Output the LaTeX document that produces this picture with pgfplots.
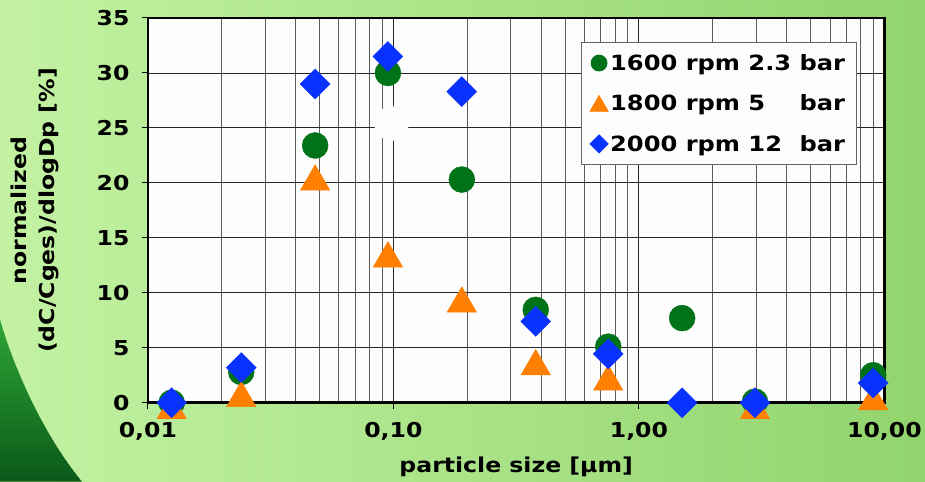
\documentclass[border=0pt]{standalone}
\usepackage{fontspec}
\setmainfont{DejaVu Sans}[FakeStretch=1.15]
\usepackage{pgfplots}
\pgfplotsset{compat=1.18}
\definecolor{bgL}{HTML}{C2F2A2}
\definecolor{bgR}{HTML}{92D46E}
\definecolor{swT}{HTML}{2EA535}
\definecolor{swB}{HTML}{0B5A1A}
\definecolor{cgreen}{HTML}{007318}
\definecolor{corange}{HTML}{FF7F00}
\definecolor{cblue}{HTML}{0A32FF}
\definecolor{pw}{HTML}{FDFDFD}
\newcommand{\ff}{\bfseries\fontsize{20.5}{28}\selectfont}
\newcommand{\fl}{\bfseries\fontsize{21}{28}\selectfont}
\begin{document}
\begin{tikzpicture}[x=1pt,y=1pt]
% frame: bottom and top strips
\foreach \i in {0,...,184} {
  \pgfmathsetmacro\t{\i/184*100}
  \fill[bgR!\t!bgL] (\i*5,0) rectangle (\i*5+5.6,79.5);
  \fill[bgR!\t!bgL] (\i*5,463.5) rectangle (\i*5+5.6,482);
}
% left strip
\foreach \i in {0,...,28} {
  \pgfmathsetmacro\t{\i/184*100}
  \fill[bgR!\t!bgL] (\i*5,79) rectangle (\i*5+5.6,464);
}
\fill[bgR!15.8!bgL] (145,79) rectangle (148.5,464);
% right strip
\fill[bgR!96!bgL] (884.5,79) rectangle (885.5,464);
\foreach \i in {177,...,184} {
  \pgfmathsetmacro\t{\i/184*100}
  \fill[bgR!\t!bgL] (\i*5,79) rectangle (\i*5+5.6,464);
}
% dark green swoosh
\begin{scope}
\clip (0,162) .. controls (15,110) and (45,45) .. (82,0) -- (0,0) -- cycle;
\foreach \j in {0,...,40} {
  \pgfmathsetmacro\t{\j/40*100}
  \fill[swT!\t!swB] (0,\j*4) rectangle (90,\j*4+4.6);
}
\end{scope}
\fill[pw] (148,79) rectangle (885,464);
\useasboundingbox (0,0) rectangle (925,482);
\begin{axis}[
  at={(148pt,79pt)}, anchor=south west,
  width=737pt, height=385pt, scale only axis,
  axis background/.style={fill=pw},
  xmode=log, log basis x=10,
  xmin=0.01, xmax=10, ymin=0, ymax=35,
  xtick={0.01,0.1,1,10},
  minor xtick={0.02,0.03,0.04,0.05,0.06,0.07,0.08,0.09,0.2,0.3,0.4,0.5,0.6,0.7,0.8,0.9,2,3,4,5,6,7,8,9},
  xticklabels={{0,01},{0,10},{1,00},{10,00}},
  ytick={0,5,10,15,20,25,30,35},
  /pgf/number format/assume math mode=true,
  xmajorgrids=true, xminorgrids=true, ymajorgrids=true,
  major grid style={black!85, line width=0.9pt},
  minor grid style={black!65, line width=0.9pt},
  axis line style={black, line width=2.6pt},
  tick align=outside, xtick pos=bottom, ytick pos=left,
  major tick length=6pt, minor tick length=0pt,
  tick style={black, line width=1pt},
  ticklabel style={font=\ff},
  yticklabel style={xshift=-9pt},
  xticklabel style={yshift=-10pt},
  xlabel={particle size [µm]},
  xlabel style={font=\ff, at={(axis description cs:0.5,-0.182)}, anchor=base},
  ylabel={normalized\\(dC/Cges)/dlogDp [\%]},
  ylabel style={font=\ff, align=center, at={(axis description cs:-0.153,0.5)}, anchor=center},
  clip=false,
  legend style={at={(axis description cs:0.5875,0.9377)}, anchor=north west,
    draw=black!60, line width=0.8pt, fill=pw, font=\fl,
    inner xsep=9pt, inner ysep=10pt, row sep=19pt,
    cells={anchor=west}},
  legend cell align=left,
]
\addplot[only marks, mark=*, mark size=13pt, color=cgreen,
  mark options={draw=cgreen, fill=cgreen},
  legend image post style={mark size=8pt}]
  coordinates {(0.0125,0) (0.024,2.8) (0.048,23.4) (0.095,30.0) (0.19,20.3)
    (0.38,8.45) (0.75,5.1) (1.5,7.7) (2.97,0.1) (9.0,2.5)};
\addlegendentry{1600 rpm 2.3 bar}
\addplot[only marks, mark=triangle*, mark size=17pt, color=corange,
  mark options={draw=corange, fill=corange, yshift=-4.25pt},
  legend image post style={mark size=10.5pt, mark options={draw=corange, fill=corange, yshift=-2.6pt}}]
  coordinates {(0.0125,-0.3) (0.024,0.8) (0.048,20.5) (0.095,13.5) (0.19,9.4)
    (0.38,3.7) (0.75,2.3) (2.97,-0.3) (9.0,0.5)};
\addlegendentry{1800 rpm 5\phantom{.3} bar}
\addplot[only marks, mark=square*, mark size=10.6pt, color=cblue,
  mark options={draw=cblue, fill=cblue, rotate=45},
  legend image post style={mark size=6.4pt}]
  coordinates {(0.0125,0) (0.024,3.2) (0.048,29.0) (0.095,31.5) (0.19,28.3)
    (0.38,7.4) (0.75,4.45) (1.5,0) (2.97,0) (9.0,1.8)};
\addlegendentry{2000 rpm 12\phantom{.} bar}
\addplot[only marks, mark=*, mark size=17pt, color=pw, mark options={draw=pw, fill=pw}, forget plot]
  coordinates {(0.0982,25.4)};
\end{axis}
\end{tikzpicture}
\end{document}
